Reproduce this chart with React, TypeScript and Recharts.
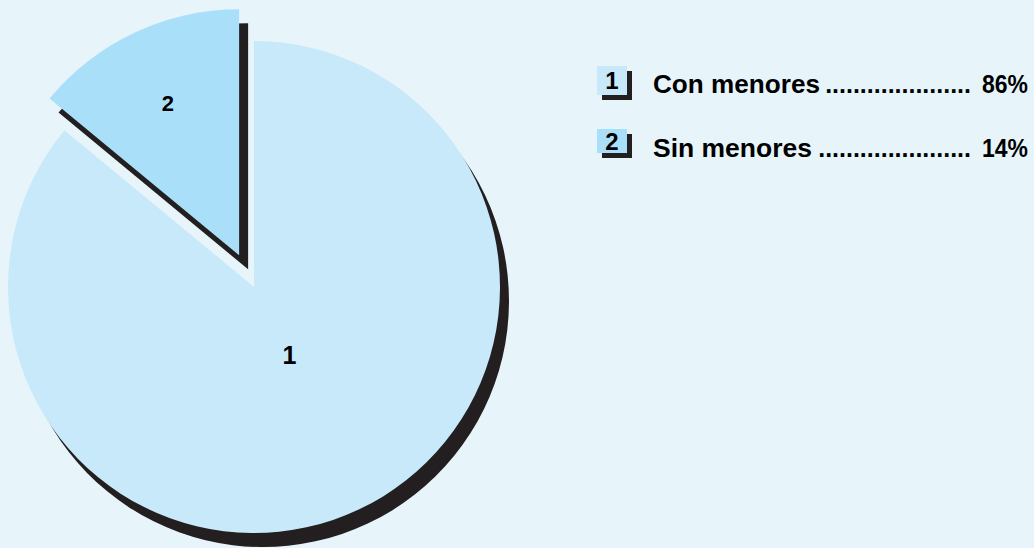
import React from 'react';
import { PieChart, Pie, Cell } from 'recharts';

// ---- data ----
const categories = ['Con menores', 'Sin menores'];
const sliceLabels = ['1', '2'];
const values = [86, 14];
const exploded = [false, true];

// ---- styles ----
const W = 1034;
const H = 548;
const BG = '#e7f5fa';
const FILLS = ['#c8e9f9', '#aadff9'];
const SHADOW = '#231f20';
const CX = 254;
const CY = 287;
const R = 246;
const EXPLODE = 35;
const SHX = 9;
const SHY = 14;
const START = 90;
const END = -270;
const LABEL_R = [0.31, 0.68];
const LABEL_SIZE = [25, 22];
const FONT = "'Liberation Sans', Arial, Helvetica, sans-serif";

const RAD = Math.PI / 180;
const total = values.reduce((a, b) => a + b, 0);
const tableData = categories.map((name, i) => ({ name, value: values[i], label: sliceLabels[i] }));

function explodeOffset(i: number) {
  if (!exploded[i]) return { dx: 0, dy: 0 };
  const before = values.slice(0, i).reduce((a, b) => a + b, 0);
  const span = START - END;
  const s = START - (span * before) / total;
  const e = START - (span * (before + values[i])) / total;
  const mid = (s + e) / 2;
  return { dx: EXPLODE * Math.cos(mid * RAD), dy: -EXPLODE * Math.sin(mid * RAD) };
}

function makeLabel(only: number) {
  return (props: any) => {
    const { cx, cy, midAngle, outerRadius, index } = props;
    if (index !== only) return null;
    const r = outerRadius * LABEL_R[index];
    const x = cx + r * Math.cos(-midAngle * RAD) + (index === 0 ? 3 : 0);
    const y = cy + r * Math.sin(-midAngle * RAD) - (index === 0 ? 1 : 0);
    return (
      <text
        x={x}
        y={y}
        textAnchor="middle"
        dominantBaseline="central"
        fontFamily={FONT}
        fontWeight="bold"
        fontSize={LABEL_SIZE[index]}
        fill="#000"
      >
        {tableData[index].label}
      </text>
    );
  };
}

const legendRows = [
  { boxY: 66, boxH: 29, baseline: 93, nameLen: 167, dots: 21 },
  { boxY: 129, boxH: 24, baseline: 157, nameLen: 159, dots: 22 },
];

export default function App() {
  const layers: React.ReactNode[] = [];
  // shadows first
  tableData.forEach((_, i) => {
    const off = explodeOffset(i);
    layers.push(
      <Pie
        key={`sh-${i}`}
        data={tableData}
        dataKey="value"
        nameKey="name"
        cx={CX + off.dx + SHX}
        cy={CY + off.dy + SHY}
        outerRadius={R}
        innerRadius={0}
        startAngle={START}
        endAngle={END}
        stroke="none"
        isAnimationActive={false}
        labelLine={false}
        label={false}
      >
        {tableData.map((d, j) => (
          <Cell key={j} fill={j === i ? SHADOW : 'none'} stroke="none" />
        ))}
      </Pie>
    );
  });
  tableData.forEach((_, i) => {
    const off = explodeOffset(i);
    layers.push(
      <Pie
        key={`main-${i}`}
        data={tableData}
        dataKey="value"
        nameKey="name"
        cx={CX + off.dx}
        cy={CY + off.dy}
        outerRadius={R}
        innerRadius={0}
        startAngle={START}
        endAngle={END}
        stroke="none"
        isAnimationActive={false}
        labelLine={false}
        label={makeLabel(i)}
      >
        {tableData.map((d, j) => (
          <Cell key={j} fill={j === i ? FILLS[j] : 'none'} stroke="none" />
        ))}
      </Pie>
    );
  });

  return (
    <div style={{ position: 'absolute', left: 0, top: 0, width: W, height: H, background: BG, overflow: 'hidden' }}>
      <PieChart width={W} height={H} margin={{ top: 0, right: 0, bottom: 0, left: 0 }}>
        {layers}
      </PieChart>
      <svg width={W} height={H} style={{ position: 'absolute', left: 0, top: 0, pointerEvents: 'none' }}>
        {tableData.map((d, i) => {
          const row = legendRows[i];
          return (
            <g key={i}>
              <rect x={602} y={row.boxY + 5} width={30} height={row.boxH} fill={SHADOW} />
              <rect x={597} y={row.boxY} width={30} height={row.boxH} fill={FILLS[i]} />
              <text
                x={612}
                y={row.boxY + row.boxH / 2}
                textAnchor="middle"
                dominantBaseline="central"
                fontFamily={FONT}
                fontWeight="bold"
                fontSize={24}
                fill="#000"
              >
                {d.label}
              </text>
              <text
                x={653}
                y={row.baseline}
                fontFamily={FONT}
                fontWeight="bold"
                fontSize={25}
                fill="#000"
                textLength={row.nameLen}
                lengthAdjust="spacingAndGlyphs"
              >
                {d.name}
              </text>
              <text
                x={971}
                y={row.baseline}
                textAnchor="end"
                fontFamily={FONT}
                fontWeight="bold"
                fontSize={25}
                fill="#000"
              >
                {'.'.repeat(row.dots)}
              </text>
              <text
                x={1028}
                y={row.baseline}
                textAnchor="end"
                fontFamily={FONT}
                fontWeight="bold"
                fontSize={25}
                fill="#000"
                textLength={46}
                lengthAdjust="spacingAndGlyphs"
              >
                {`${Math.round((d.value / total) * 100)}%`}
              </text>
            </g>
          );
        })}
      </svg>
    </div>
  );
}
